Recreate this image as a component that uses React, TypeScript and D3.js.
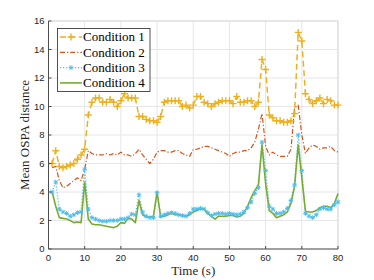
import React from "react";
import * as d3 from "d3";

// time steps 1..80
const times = d3.range(1, 81);

const cond1 = [
  6.0, 6.9, 5.8, 5.7, 5.8, 5.9, 6.0, 6.3, 6.6, 7.0,
  9.4, 10.3, 10.6, 10.6, 10.3, 10.3, 10.5, 10.3, 10.0, 10.4,
  10.9, 10.6, 10.6, 10.6, 9.3, 9.3, 9.1, 9.0, 9.0, 8.9,
  9.3, 10.3, 10.4, 10.4, 10.4, 10.4, 10.0, 10.1, 9.9, 10.1,
  10.7, 10.7, 10.3, 10.2, 10.0, 10.2, 10.3, 10.4, 10.4, 10.4,
  10.2, 10.7, 10.3, 10.3, 10.4, 10.4, 10.0, 10.3, 13.3, 12.6,
  9.4, 9.2, 9.0, 9.0, 8.9, 8.9, 9.0, 9.5, 15.2, 14.6,
  10.9, 10.5, 10.2, 10.4, 10.6, 10.2, 10.5, 10.4, 10.1, 10.1,
];

const cond2 = [
  5.7, 5.8, 4.8, 4.3, 4.4, 4.6, 4.8, 5.0, 4.8, 5.6,
  6.9, 6.7, 6.6, 6.6, 6.6, 6.7, 6.6, 6.7, 6.6, 6.8,
  6.6, 6.6, 6.5, 6.7, 7.0, 6.6, 6.3, 6.0, 6.3, 6.8,
  6.9, 6.9, 6.8, 6.8, 6.9, 6.9, 6.7, 6.6, 6.5, 7.0,
  7.0, 7.1, 7.2, 7.2, 7.1, 7.0, 6.9, 6.8, 6.7, 6.5,
  6.7, 6.8, 6.8, 6.9, 6.9, 7.1, 7.5, 8.4, 9.5, 7.2,
  6.6, 6.8, 6.6, 6.5, 6.5, 6.5, 7.0, 9.9, 10.1, 8.0,
  6.7, 7.1, 7.3, 7.2, 7.0, 7.1, 7.1, 7.2, 6.9, 6.8,
];

const cond3 = [
  4.0, 4.7, 2.8, 2.6, 2.5, 2.3, 2.4, 2.55, 2.6, 5.6,
  2.8, 2.2, 2.1, 2.0, 1.95, 1.95, 2.0, 2.0, 2.0, 2.1,
  2.1, 2.2, 2.45, 2.4, 3.8, 2.6, 2.3, 2.2, 2.2, 3.95,
  2.3, 2.4, 2.5, 2.55, 2.5, 2.4, 2.35, 2.3, 2.5, 2.8,
  2.8, 2.85, 2.8, 2.55, 2.35, 2.45, 2.5, 2.5, 2.45, 2.5,
  2.45, 2.4, 2.45, 2.6, 2.9, 3.3, 3.9, 4.3, 7.5, 5.5,
  3.0, 2.8, 2.5, 2.5, 2.6, 2.85, 3.4, 4.5, 8.0, 5.5,
  2.5, 2.3, 2.2, 2.4, 2.8, 2.9, 2.8, 2.8, 3.1, 3.3,
];

const cond4 = [
  4.0, 3.0, 2.2, 2.15, 2.1, 2.0, 1.85, 1.9, 1.85, 4.7,
  2.1, 1.75, 1.7, 1.7, 1.65, 1.6, 1.55, 1.5, 1.6, 1.85,
  1.8, 2.15, 2.1, 1.85, 3.4, 2.4, 2.25, 2.25, 2.3, 4.0,
  2.25, 2.3, 2.4, 2.5, 2.4, 2.4, 2.35, 2.3, 2.4, 2.6,
  2.7, 2.8, 2.8, 2.5, 2.3, 2.1, 2.3, 2.3, 2.3, 2.35,
  2.35, 2.25, 2.3, 2.5, 3.0, 3.6, 4.1, 4.5, 7.3, 4.6,
  2.7, 2.5, 2.2, 2.3, 2.4, 2.6, 3.2, 4.4, 7.3, 5.0,
  2.65, 2.6, 2.6, 2.7, 2.9, 3.0, 3.0, 2.9, 3.2, 3.9,
];

const seriesNames = ["Condition 1", "Condition 2", "Condition 3", "Condition 4"];
const xTicks = [0, 10, 20, 30, 40, 50, 60, 70, 80];
const yTicks = [0, 2, 4, 6, 8, 10, 12, 14, 16];

const width = 374;
const height = 280;
const margin = { top: 21, right: 36, bottom: 31, left: 48.5 };

const styles = [
  { color: "#EDB120", dash: "6,3.5", width: 1.5, marker: "plus" },
  { color: "#D95319", dash: "5,2,1.2,2", width: 1.2, marker: "none" },
  { color: "#4DBEEE", dash: "1.2,1.8", width: 1.3, marker: "star" },
  { color: "#77AC30", dash: "none", width: 1.6, marker: "none" },
];

function Marker({ kind, x, y, color }: { kind: string; x: number; y: number; color: string }) {
  if (kind === "plus") {
    const s = 3.5;
    return (
      <path d={`M${x - s},${y}H${x + s}M${x},${y - s}V${y + s}`} stroke={color} strokeWidth={1.4} fill="none" />
    );
  }
  if (kind === "star") {
    const s = 2.3;
    return (
      <path
        d={`M${x - s},${y}H${x + s}M${x},${y - s}V${y + s}M${x - s * 0.75},${y - s * 0.75}L${x + s * 0.75},${y + s * 0.75}M${x - s * 0.75},${y + s * 0.75}L${x + s * 0.75},${y - s * 0.75}`}
        stroke={color}
        strokeWidth={1}
        fill="none"
      />
    );
  }
  return null;
}

export default function App() {
  const x = d3.scaleLinear().domain([0, 80]).range([margin.left, width - margin.right]);
  const y = d3.scaleLinear().domain([0, 16]).range([height - margin.bottom, margin.top]);
  const all = [cond1, cond2, cond3, cond4];
  const line = d3
    .line<number>()
    .x((_, i) => x(times[i]))
    .y((d) => y(d));

  const x0 = x(0), x1 = x(80), y0 = y(0), y1 = y(16);
  const axisColor = "#4d4d4d";
  const tickFont = "'Liberation Sans', Arial, sans-serif";
  const serif = "'Liberation Serif', 'Times New Roman', serif";

  return (
    <svg width={width} height={height} style={{ position: "absolute", left: 0, top: 0, background: "#fff" }}>
      {/* grid */}
      {xTicks.map((t) => (
        <line key={"gx" + t} x1={x(t)} x2={x(t)} y1={y0} y2={y1} stroke="#e6e6e6" strokeWidth={1} />
      ))}
      {yTicks.map((t) => (
        <line key={"gy" + t} x1={x0} x2={x1} y1={y(t)} y2={y(t)} stroke="#e6e6e6" strokeWidth={1} />
      ))}
      {/* box top/right */}
      <path d={`M${x0},${y1}H${x1}V${y0}`} fill="none" stroke="#d9d9d9" strokeWidth={1} />

      {/* series */}
      {all.map((data, k) => (
        <path
          key={"s" + k}
          d={line(data) || ""}
          fill="none"
          stroke={styles[k].color}
          strokeWidth={styles[k].width}
          strokeDasharray={styles[k].dash}
          strokeLinejoin="round"
        />
      ))}
      {all.map((data, k) =>
        styles[k].marker === "none"
          ? null
          : data.map((v, i) => (
              <Marker key={`m${k}-${i}`} kind={styles[k].marker} x={x(times[i])} y={y(v)} color={styles[k].color} />
            ))
      )}

      {/* axes */}
      <path d={`M${x0},${y1}V${y0}H${x1}`} fill="none" stroke={axisColor} strokeWidth={1} />
      {xTicks.map((t) => (
        <g key={"xt" + t}>
          <line x1={x(t)} x2={x(t)} y1={y0} y2={y0 - 3} stroke={axisColor} />
          <text x={x(t)} y={y0 + 12} textAnchor="middle" fontSize={9.5} fontFamily={tickFont} fill="#262626">
            {t}
          </text>
        </g>
      ))}
      {yTicks.map((t) => (
        <g key={"yt" + t}>
          <line x1={x0} x2={x0 + 3} y1={y(t)} y2={y(t)} stroke={axisColor} />
          <text x={x0 - 4} y={y(t) + 3.3} textAnchor="end" fontSize={9.5} fontFamily={tickFont} fill="#262626">
            {t}
          </text>
        </g>
      ))}

      {/* axis labels */}
      <text x={(x0 + x1) / 2} y={275} textAnchor="middle" fontSize={13} fontFamily={serif} fill="#262626">
        Time (s)
      </text>
      <text
        transform={`translate(29,${(y0 + y1) / 2}) rotate(-90)`}
        textAnchor="middle"
        fontSize={13}
        fontFamily={serif}
        fill="#262626"
      >
        Mean OSPA distance
      </text>

      {/* legend */}
      <g>
        <rect x={57.5} y={28.5} width={92.5} height={63} fill="#fff" stroke="#262626" strokeWidth={0.8} />
        {seriesNames.map((name, k) => {
          const ly = 37 + k * 15.3;
          return (
            <g key={"lg" + k}>
              <line
                x1={60}
                x2={82}
                y1={ly}
                y2={ly}
                stroke={styles[k].color}
                strokeWidth={styles[k].width}
                strokeDasharray={styles[k].dash}
              />
              <Marker kind={styles[k].marker} x={71} y={ly} color={styles[k].color} />
              <text x={83} y={ly + 4.3} fontSize={13} fontFamily={serif} fill="#000">
                {name}
              </text>
            </g>
          );
        })}
      </g>
    </svg>
  );
}
